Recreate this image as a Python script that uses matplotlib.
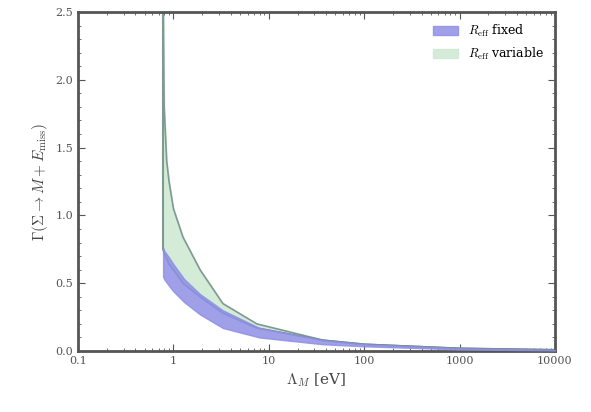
import numpy as np
import matplotlib
matplotlib.use("Agg")
import matplotlib.pyplot as plt

plt.rcParams["font.family"] = "DejaVu Serif"
plt.rcParams["mathtext.fontset"] = "cm"

# threshold mass and sample points
x_fixed = [0.78, 0.8, 0.9, 1.0, 1.3, 1.9, 3.3, 8, 37, 100, 1000, 10000]
fixed_lo = [0.55, 0.53, 0.48, 0.44, 0.36, 0.27, 0.17, 0.10, 0.05, 0.035, 0.012, 0.005]
fixed_hi = [0.76, 0.74, 0.69, 0.64, 0.53, 0.42, 0.30, 0.17, 0.08, 0.05, 0.02, 0.008]

x_var = [0.78, 0.8, 0.85, 0.9, 1.0, 1.26, 1.9, 3.3, 7.5, 37, 100, 1000, 10000]
var_lo = [0.75, 0.72, 0.68, 0.64, 0.60, 0.50, 0.40, 0.28, 0.17, 0.08, 0.05, 0.02, 0.008]
var_hi = [2.6, 1.8, 1.4, 1.25, 1.05, 0.84, 0.60, 0.35, 0.20, 0.08, 0.05, 0.02, 0.01]

fig = plt.figure(figsize=(5.91, 4.12), dpi=100)
ax = fig.add_axes([0.132, 0.148, 0.807, 0.823])

ax.fill_between(x_var, var_lo, var_hi, color="#cfe9d3", alpha=0.9,
                label=r"$R_{\rm eff}$ variable", zorder=1)
ax.plot(x_var, var_hi, color="#7f9a92", lw=1.2, zorder=2)
ax.plot(x_var, var_lo, color="#6d8c86", lw=1.2, zorder=2)
ax.plot([x_var[0], x_var[0]], [var_lo[0], var_hi[0]], color="#7f9a92", lw=1.5, zorder=2)

ax.fill_between(x_fixed, fixed_lo, fixed_hi, color="#8f8fe6", alpha=0.85,
                label=r"$R_{\rm eff}$ fixed", zorder=3)

ax.set_xscale("log")
ax.set_xlim(0.1, 10000)
ax.set_ylim(0, 2.5)
ax.set_xticks([0.1, 1, 10, 100, 1000, 10000])
ax.set_xticklabels(["0.1", "1", "10", "100", "1000", "10000"])
ax.set_yticks([0, 0.5, 1.0, 1.5, 2.0, 2.5])
ax.set_yticklabels(["0.0", "0.5", "1.0", "1.5", "2.0", "2.5"])
ax.minorticks_on()
ax.tick_params(which="both", direction="in", top=True, right=True, labelsize=8, colors="#555555")
ax.tick_params(which="major", length=5)
for s in ax.spines.values():
    s.set_linewidth(2)
    s.set_color("#555555")

ax.set_xlabel(r"$\Lambda_M$ [eV]", fontsize=11, color="#444444")
ax.set_ylabel(r"$\Gamma(\Sigma \to M + E_{\rm miss})$", fontsize=11, color="#444444")

h, l = ax.get_legend_handles_labels()
ax.legend(h[::-1], l[::-1], loc="upper right", frameon=False, fontsize=9)

fig.savefig("out.png", dpi=100)
